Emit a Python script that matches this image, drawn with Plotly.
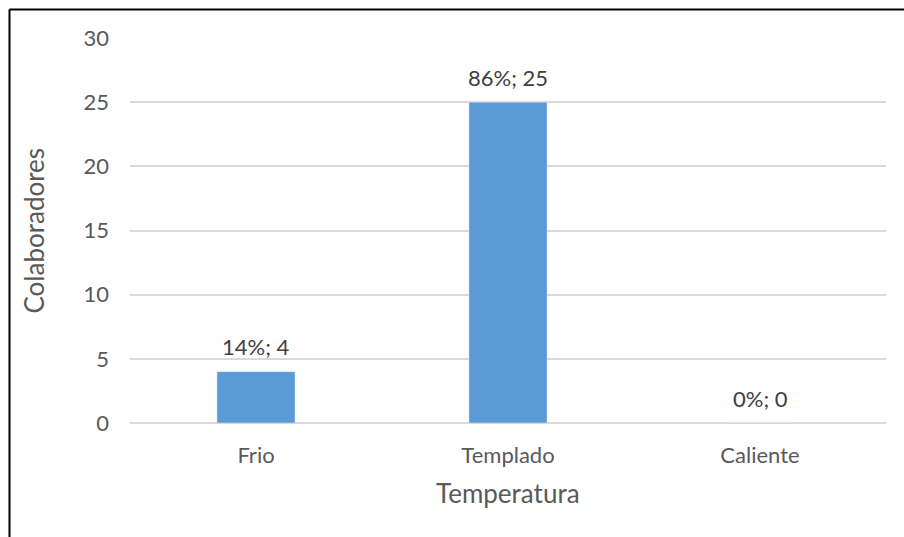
import plotly.graph_objects as go

categories = ["Frio", "Templado", "Caliente"]
values = [4, 25, 0]
percents = ["14%", "86%", "0%"]
y_ticks = [0, 5, 10, 15, 20, 25, 30]

W, H = 904, 537
L, T = 130, 38
R = W - 886
B = H - 423.5
pw, ph = W - L - R, H - T - B

def px_x(x):
    return (x - L) / pw

def px_y(y):
    return (H - B - y) / ph

font_family = "Lato, 'Open Sans', sans-serif"
grey = "#595959"

fig = go.Figure(go.Bar(
    x=categories, y=values,
    marker_color="#5b9bd5",
    hoverinfo="skip",
))

annotations = []
for c, v, p in zip(categories, values, percents):
    annotations.append(dict(
        x=c, y=v, xref="x", yref="y", text=f"{p}; {v}", showarrow=False,
        yanchor="middle", yshift=25,
        font=dict(size=22, color="#404040", family=font_family),
    ))
annotations.append(dict(
    x=0.5, y=0, xref="paper", yref="paper", text="Temperatura", showarrow=False,
    yanchor="middle", yshift=-69.5,
    font=dict(size=26, color=grey, family=font_family),
))
annotations.append(dict(
    x=0, y=0.5, xref="paper", yref="paper", text="Colaboradores", showarrow=False,
    textangle=-90, xanchor="center", yanchor="middle", xshift=-97,
    font=dict(size=26, color=grey, family=font_family),
))

fig.update_layout(
    width=W, height=H,
    margin=dict(l=L, r=R, t=T, b=B, autoexpand=False),
    paper_bgcolor="white", plot_bgcolor="white",
    bargap=0.69,
    showlegend=False,
    font=dict(family=font_family, color=grey, size=22),
    xaxis=dict(
        tickfont=dict(size=22, color=grey),
        showline=False, ticks="", ticklabelstandoff=17,
    ),
    yaxis=dict(
        range=[0, 30], tickvals=y_ticks,
        tickfont=dict(size=22, color=grey),
        gridcolor="#d9d9d9", gridwidth=1.5,
        zeroline=True, zerolinecolor="#d9d9d9", zerolinewidth=1.5,
        ticks="", ticklabelstandoff=20,
    ),
    annotations=annotations,
    shapes=[
        dict(type="line", xref="paper", yref="paper",
             x0=px_x(9.5), x1=px_x(9.5), y0=px_y(560), y1=px_y(9.5),
             line=dict(color="black", width=2), layer="above"),
        dict(type="line", xref="paper", yref="paper",
             x0=px_x(9.5), x1=px_x(910), y0=px_y(9.5), y1=px_y(9.5),
             line=dict(color="black", width=2), layer="above"),
    ],
)

fig.write_html(
    "out.html",
    config={"displayModeBar": False},
    post_script="document.body.style.margin='0';document.body.style.overflow='hidden';",
)
